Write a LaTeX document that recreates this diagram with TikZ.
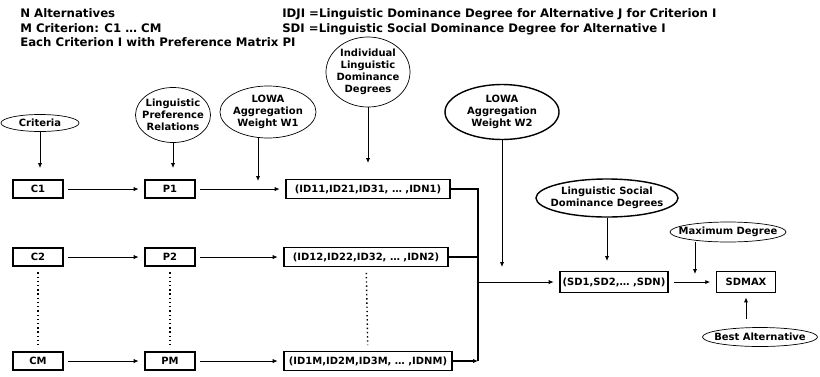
\documentclass[tikz,border=0pt]{standalone}
\usepackage{fontspec}
\setmainfont{DejaVu Sans}
\usetikzlibrary{shapes.geometric}
\usetikzlibrary{arrows.meta}

\tikzset{
  box/.style={draw, line width=1pt, minimum height=0.45cm, inner sep=1pt},
  oval/.style={draw, ellipse, align=center, inner xsep=-6pt, inner ysep=-3pt, line width=0.5pt},
  thick oval/.style={oval, line width=1pt},
  flow/.style={-{Latex[length=3.5pt,width=3pt]}, line width=0.6pt},
  busline/.style={line width=0.9pt},
}

\begin{document}
\begin{tikzpicture}[x=0.025cm, y=-0.025cm, font=\fontsize{7.1}{8.5}\selectfont\bfseries]
    \useasboundingbox (0,0) rectangle (820,376);

    % notation
    \begin{scope}[every node/.style={anchor=base west, inner sep=0pt, font=\fontsize{8.35}{10}\selectfont\bfseries}]
    \node (nalt) at (20,17) {N Alternatives};
    \node (mcrit) at (20,32) {M Criterion: C1 … CM};
    \node (each) at (20,46) {Each Criterion I with Preference Matrix PI};
    \node (idji) at (282,17) {IDJI =Linguistic Dominance Degree for Alternative J for Criterion I};
    \node (sdi) at (282,32) {SDI =Linguistic Social Dominance Degree for Alternative I};
    \end{scope}

    % ovals
    \node[oval, minimum width=1.95cm, minimum height=0.425cm] (crit) at (40,123) {Criteria};
    \node[oval, minimum width=1.875cm, minimum height=1.375cm] (pref) at (173,115) {Linguistic\\Preference\\Relations};
    \node[oval, minimum width=2.4cm, minimum height=1.3cm] (wone) at (268,112) {LOWA\\Aggregation\\Weight W1};
    \node[oval, minimum width=2.1cm, minimum height=1.75cm] (indiv) at (368,72) {Individual\\Linguistic\\Dominance\\Degrees};
    \node[thick oval, minimum width=2.85cm, minimum height=1.375cm] (wtwo) at (502,112) {LOWA\\Aggregation\\Weight W2};
    \node[thick oval, minimum width=3.55cm, minimum height=0.95cm] (social) at (607,198) {Linguistic Social\\Dominance Degrees};
    \node[oval, minimum width=2.9cm, minimum height=0.5cm] (maxdeg) at (728,232) {Maximum Degree};
    \node[oval, minimum width=2.875cm, minimum height=0.475cm] (best) at (760,337) {Best Alternative};

    % boxes
    \node[box, minimum width=1.25cm] (cone) at (38,189) {C1};
    \node[box, minimum width=1.25cm] (ctwo) at (38,257) {C2};
    \node[box, minimum width=1.25cm] (cm) at (38,361) {CM};
    \node[box, minimum width=1.25cm] (pone) at (170,189) {P1};
    \node[box, minimum width=1.25cm] (ptwo) at (170,257) {P2};
    \node[box, minimum width=1.25cm] (pm) at (170,361) {PM};
    \node[box, minimum width=4.1cm, minimum height=0.475cm] (idone) at (368,189) {(ID11,ID21,ID31, … ,IDN1)};
    \node[box, minimum width=4.1cm, minimum height=0.475cm] (idtwo) at (366,257) {(ID12,ID22,ID32, … ,IDN2)};
    \node[box, minimum width=4.2cm, minimum height=0.475cm] (idm) at (368,361) {(ID1M,ID2M,ID3M, … ,IDNM)};
    \node[box, minimum width=2.7cm, minimum height=0.525cm] (sd) at (614,282) {(SD1,SD2,… ,SDN)};
    \node[box, minimum width=1.475cm, minimum height=0.525cm] (sdmax) at (746,282) {SDMAX};

    % free ends
    \coordinate (jx) at (478,282);
    \coordinate (woneend) at (258,181);
    \coordinate (indivend) at (368,163);
    \coordinate (wtwoend) at (502,267);
    \coordinate (socialend) at (607,261);
    \coordinate (maxend) at (695,274);

    % rows
    \foreach \c/\p/\i in {cone/pone/idone, ctwo/ptwo/idtwo, cm/pm/idm} {
      \draw[flow, shorten <=3pt, shorten >=4pt] (\c) -- (\p);
      \draw[flow, shorten <=3pt, shorten >=4pt] (\p) -- (\i);
    }
    \draw[dotted, line width=1pt, shorten <=4pt, shorten >=4pt] (ctwo) -- (cm);
    \draw[dotted, line width=1pt, shorten <=4pt, shorten >=4pt] (ptwo) -- (pm);
    \draw[dotted, line width=1pt, shorten <=4pt, shorten >=4pt] (idtwo) -- (idm);

    % inputs from above
    \draw[flow, shorten >=8pt] (crit) -- (crit |- cone.north);
    \draw[flow, shorten >=8pt] (pref) -- (pref |- pone.north);
    \draw[flow] (woneend |- wone.south) -- (woneend);
    \draw[flow] (indiv) -- (indivend);
    \draw[flow] (wtwo) -- (wtwoend);
    \draw[flow] (social) -- (socialend);
    \draw[flow] (maxend |- maxdeg.south) -- (maxend);
    \draw[flow, shorten <=6pt, shorten >=3pt] (sdmax |- best.north) -- (sdmax.south);

    % aggregation
    \draw[busline] (idone) -- (idone -| jx) -- (idm -| jx);
    \draw[busline] (idtwo) -- (idtwo -| jx);
    \draw[flow, busline] (idm) -- (idm -| jx);
    \draw[flow, shorten >=4pt] (jx) -- (sd);
    \draw[flow, shorten <=4pt, shorten >=4pt] (sd) -- (sdmax);
\end{tikzpicture}
\end{document}
